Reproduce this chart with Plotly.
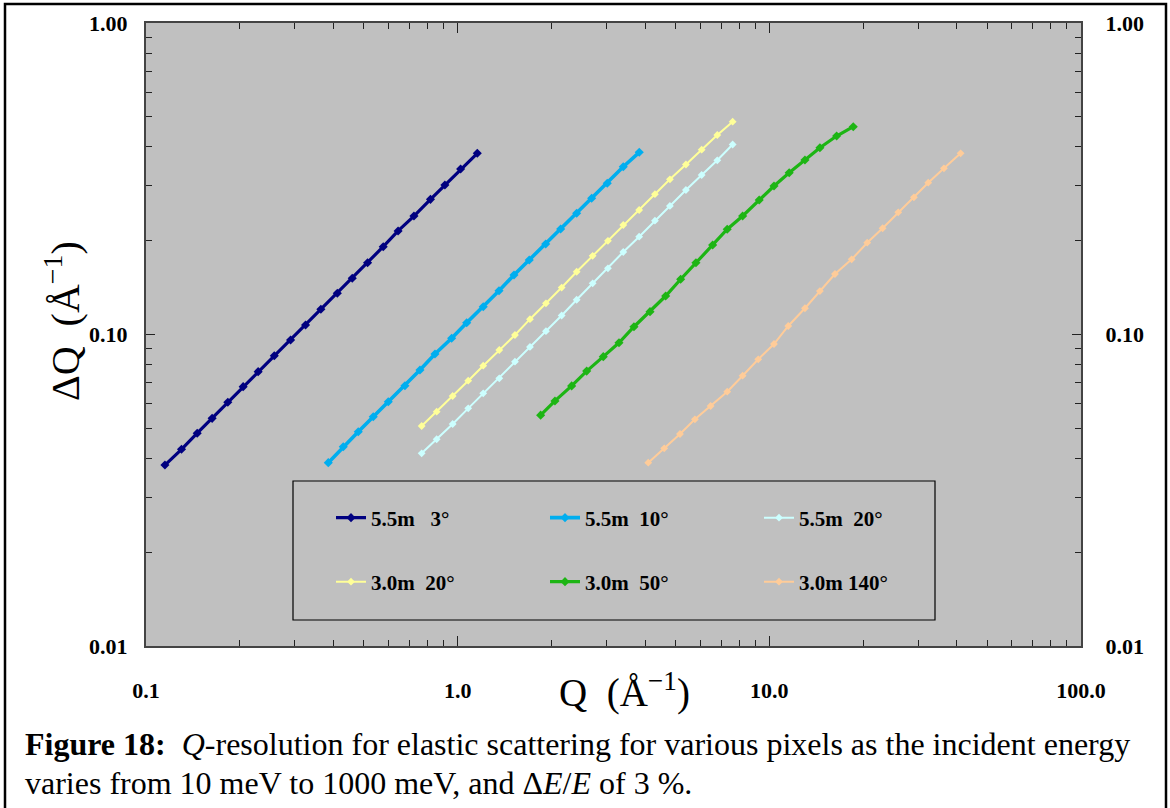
import plotly.graph_objects as go

# ---- data ----
q_55_3 = [0.115, 0.130, 0.146, 0.163, 0.183, 0.205, 0.229, 0.258, 0.291, 0.325, 0.364,
          0.411, 0.459, 0.514, 0.577, 0.644, 0.724, 0.818, 0.910, 1.022, 1.156]
dq_55_3 = [0.0381, 0.0428, 0.0482, 0.0538, 0.0606, 0.0680, 0.0760, 0.0855, 0.0960, 0.1073, 0.1205,
           0.1356, 0.1515, 0.170, 0.1914, 0.215, 0.240, 0.2716, 0.302, 0.340, 0.3817]

q_55_10 = [0.3845, 0.4295, 0.4798, 0.5360, 0.5989, 0.6773, 0.7568, 0.8456, 0.9565, 1.069, 1.208,
           1.357, 1.516, 1.697, 1.916, 2.140, 2.409, 2.691, 3.020, 3.399, 3.825]
dq_55_10 = [0.03878, 0.04362, 0.04875, 0.05446, 0.06085, 0.06849, 0.07691, 0.08660, 0.09723, 0.1091, 0.1228,
            0.1382, 0.1552, 0.1734, 0.1952, 0.2182, 0.2450, 0.2737, 0.3058, 0.3457, 0.3845]

q_20 = [0.7664, 0.8563, 0.9638, 1.081, 1.208, 1.360, 1.527, 1.706, 1.920, 2.156, 2.409,
        2.711, 3.035, 3.399, 3.822, 4.295, 4.798, 5.400, 6.066, 6.808, 7.626]
dq_55_20 = [0.04156, 0.04610, 0.05161, 0.05794, 0.06475, 0.07235, 0.08178, 0.09120, 0.1025, 0.1151, 0.1293,
            0.1460, 0.1631, 0.1840, 0.2061, 0.2319, 0.2586, 0.2910, 0.3251, 0.3624, 0.4073]
dq_30_20 = [0.05084, 0.05651, 0.06346, 0.07107, 0.07939, 0.08918, 0.09963, 0.1120, 0.1259, 0.1415, 0.1590,
            0.1789, 0.1999, 0.2247, 0.2510, 0.2821, 0.3150, 0.3514, 0.3920, 0.4370, 0.4821]

q_30_50 = [1.846, 2.052, 2.321, 2.594, 2.932, 3.293, 3.678, 4.141, 4.649, 5.194, 5.814,
           6.578, 7.326, 8.210, 9.28, 10.35, 11.58, 13.01, 14.53, 16.44, 18.59]
dq_30_50 = [0.0551, 0.0612, 0.0684, 0.0763, 0.0849, 0.0941, 0.1059, 0.1184, 0.1329, 0.1504, 0.1700,
            0.1938, 0.2177, 0.2401, 0.2703, 0.2998, 0.3307, 0.3633, 0.3978, 0.4337, 0.4646]

q_30_140 = [4.088, 4.600, 5.168, 5.771, 6.481, 7.326, 8.210, 9.213, 10.35, 11.50, 13.01,
            14.53, 16.24, 18.37, 20.61, 23.09, 25.92, 29.10, 32.35, 36.33, 41.09]
dq_30_140 = [0.03878, 0.04312, 0.04793, 0.05342, 0.05895, 0.06553, 0.07374, 0.08325, 0.09322, 0.1065, 0.1214,
             0.1379, 0.1564, 0.1743, 0.1971, 0.2193, 0.2468, 0.2757, 0.3072, 0.3416, 0.3817]

names = ["5.5m\u00a0\u00a0\u00a03°", "5.5m\u00a0\u00a010°", "5.5m\u00a0\u00a020°",
         "3.0m\u00a0\u00a020°", "3.0m\u00a0\u00a050°", "3.0m\u00a0140°"]

x_ticks = [0.1, 1, 10, 100]
x_ticktext = ["0.1", "1.0", "10.0", "100.0"]
y_ticks = [0.01, 0.1, 1]
y_ticktext = ["0.01", "0.10", "1.00"]
x_minor = [0.2, 0.3, 0.4, 0.5, 0.6, 0.7, 0.8, 0.9, 2, 3, 4, 5, 6, 7, 8, 9,
           20, 30, 40, 50, 60, 70, 80, 90]
y_minor = [0.02, 0.03, 0.04, 0.05, 0.06, 0.07, 0.08, 0.09,
           0.2, 0.3, 0.4, 0.5, 0.6, 0.7, 0.8, 0.9]

# ---- styling ----
W, H = 1170, 808
L, R, T, B = 146, 89, 23, 162
PW, PH = W - L - R, H - T - B
SERIF = "Liberation Serif"


def px(xp):
    return (xp - L) / PW


def py(yp):
    return (H - B - yp) / PH


series = [
    (q_55_3, dq_55_3, "#000080", 3.2, 7, "legend"),
    (q_55_10, dq_55_10, "#00AEEF", 3.6, 7, "legend"),
    (q_20, dq_55_20, "#CCFFFF", 2.0, 6, "legend"),
    (q_20, dq_30_20, "#FFFF99", 2.0, 6, "legend2"),
    (q_30_50, dq_30_50, "#1DB514", 3.2, 7, "legend2"),
    (q_30_140, dq_30_140, "#FFCC99", 2.0, 6, "legend2"),
]

fig = go.Figure()
for (xs, ys, col, lw, ms, lg), nm in zip(series, names):
    fig.add_trace(go.Scatter(
        x=xs, y=ys, name=nm, mode="lines+markers",
        line=dict(color=col, width=lw),
        marker=dict(symbol="diamond", size=ms, color=col),
        legend=lg, hoverinfo="skip",
    ))

# invisible copy of one series on the right-hand axis so that axis is drawn
fig.add_trace(go.Scatter(x=q_55_3, y=dq_55_3, yaxis="y2", mode="markers",
                         marker=dict(opacity=0), showlegend=False, hoverinfo="skip"))

tickfont = dict(family=SERIF, size=22, color="black", weight="bold")
legfont = dict(family=SERIF, size=21, color="black", weight="bold")

axis_common = dict(
    ticks="inside", tickwidth=1.2, tickcolor="#222",
    showgrid=False, zeroline=False, tickfont=tickfont,
)

fig.update_layout(
    width=W, height=H,
    margin=dict(l=L, r=R, t=T, b=B),
    paper_bgcolor="white",
    plot_bgcolor="#C0C0C0",
    xaxis=dict(
        type="log", range=[-1, 2], tickvals=x_ticks, ticktext=x_ticktext,
        ticklen=10, showline=True, linecolor="#444", linewidth=1.5, mirror="ticks",
        ticklabelstandoff=24,
        minor=dict(tickvals=x_minor, ticks="inside", ticklen=6, tickwidth=1.2,
                   tickcolor="#222", showgrid=False),
        **axis_common,
    ),
    yaxis=dict(
        type="log", range=[-2, 0], tickvals=y_ticks, ticktext=y_ticktext,
        ticklen=9, showline=True, linecolor="#444", linewidth=2, mirror=False,
        ticklabelstandoff=12,
        minor=dict(tickvals=y_minor, ticks="inside", ticklen=6, tickwidth=1.2,
                   tickcolor="#222", showgrid=False),
        **axis_common,
    ),
    yaxis2=dict(
        type="log", range=[-2, 0], overlaying="y", side="right",
        tickvals=y_ticks, ticktext=y_ticktext,
        ticklen=9, showline=True, linecolor="#444", linewidth=2,
        ticklabelstandoff=18,
        minor=dict(tickvals=y_minor, ticks="inside", ticklen=6, tickwidth=1.2,
                   tickcolor="#222", showgrid=False),
        **axis_common,
    ),
    legend=dict(
        orientation="h", x=px(331), y=py(518), xanchor="left", yanchor="middle",
        bgcolor="rgba(0,0,0,0)", borderwidth=0, font=legfont,
        entrywidth=169, entrywidthmode="pixels", itemwidth=30,
    ),
    legend2=dict(
        orientation="h", x=px(331), y=py(582), xanchor="left", yanchor="middle",
        bgcolor="rgba(0,0,0,0)", borderwidth=0, font=legfont,
        entrywidth=169, entrywidthmode="pixels", itemwidth=30,
    ),
    showlegend=True,
)

# legend frame and outer figure frame
fig.add_shape(type="rect", xref="paper", yref="paper",
              x0=px(293), x1=px(935), y0=py(620), y1=py(481),
              line=dict(color="black", width=1.2), fillcolor="rgba(0,0,0,0)")
fig.add_shape(type="rect", xref="paper", yref="paper",
              x0=px(5), x1=px(1166), y0=py(815), y1=py(4),
              line=dict(color="black", width=2.5), fillcolor="rgba(0,0,0,0)")

# axis titles
fig.add_annotation(xref="paper", yref="paper", x=px(624), y=py(690),
                   xanchor="center", yanchor="middle",
                   text="Q\u00a0\u00a0(Å<sup>\u22121</sup>)", showarrow=False,
                   font=dict(family=SERIF, size=39, color="black"))
fig.add_annotation(xref="paper", yref="paper", x=px(62), y=py(321),
                   xanchor="center", yanchor="middle",
                   text="ΔQ\u00a0\u00a0(Å<sup>\u22121</sup>)", showarrow=False, textangle=-90,
                   font=dict(family=SERIF, size=40, color="black"))

# caption
fig.add_annotation(xref="paper", yref="paper", x=px(23), y=py(744),
                   xanchor="left", yanchor="middle",
                   text="<b>Figure 18:</b>\u00a0\u00a0<i>Q</i>-resolution for elastic scattering for various pixels as the incident energy",
                   showarrow=False, font=dict(family=SERIF, size=32, color="black"))
fig.add_annotation(xref="paper", yref="paper", x=px(23), y=py(783),
                   xanchor="left", yanchor="middle",
                   text="varies from 10 meV to 1000 meV, and Δ<i>E</i>/<i>E</i> of 3 %.",
                   showarrow=False, font=dict(family=SERIF, size=32, color="black"))

fig.write_html("out.html")
